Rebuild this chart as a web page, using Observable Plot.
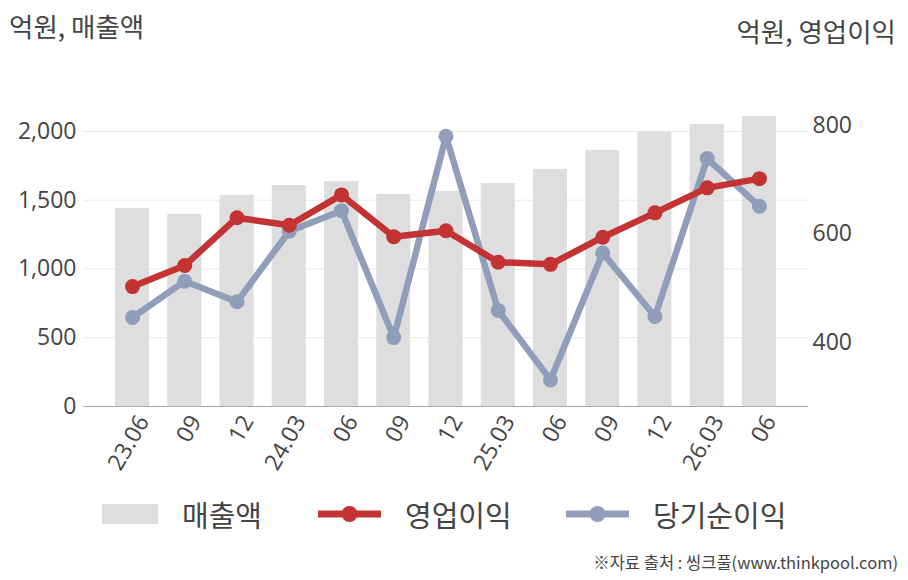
<!DOCTYPE html>
<html>
<head>
<meta charset="utf-8">
<script src="https://cdn.jsdelivr.net/npm/d3@7"></script>
<script src="https://cdn.jsdelivr.net/npm/@observablehq/plot@0.6"></script>
<style>
  body { margin: 0; width: 908px; height: 580px; background: #fff; overflow: hidden;
         font-family: "Open Sans", "Noto Sans CJK KR", sans-serif; color: #444; }
  #header { position: relative; height: 60px; }
  #header .t { position: absolute; font-size: 26.5px; color: #444; font-family: "Noto Sans CJK KR", sans-serif; white-space: nowrap; line-height: 1.2; }
  #legend { position: relative; height: 48px; }
  .item { position: absolute; top: 0; height: 48px; display: flex; align-items: center; }
  .item span { font-size: 29px; color: #444; font-family: "Noto Sans CJK KR", sans-serif; margin-left: 24px; }
  #caption { position: absolute; right: 10px; top: 550px; font-size: 16.5px; color: #444; font-family: "Noto Sans CJK KR", sans-serif; white-space: nowrap; }
  svg { display: block; }
</style>
</head>
<body>
<div id="header">
  <div class="t" style="left:9px; top:10px;">억원, 매출액</div>
  <div class="t" style="right:12px; top:15px;">억원, 영업이익</div>
</div>
<div id="chart"></div>
<div id="legend"></div>
<div id="caption">※자료 출처 : 씽크풀(www.thinkpool.com)</div>
<script>
// ---- data ----
const periods = ["23.06","23.09","23.12","24.03","24.06","24.09","24.12","25.03","25.06","25.09","25.12","26.03","26.06"];
const tickLabels = ["23.06","09","12","24.03","06","09","12","25.03","06","09","12","26.03","06"];
const sales = [1440, 1396, 1535, 1607, 1636, 1542, 1564, 1622, 1724, 1862, 1998, 2051, 2109];      // 매출액 (left axis)
const operating = [503, 542, 630, 616, 672, 595, 606, 548, 544, 594, 639, 685, 702];               // 영업이익 (right axis)
const netIncome = [446, 513, 475, 605, 643, 409, 780, 459, 331, 565, 448, 739, 651];               // 당기순이익 (right axis)
const leftTicks = [0, 500, 1000, 1500, 2000];
const rightTicks = [400, 600, 800];

const C_BAR = "#dedede", C_OP = "#c43333", C_NET = "#919eba";

// right axis (profit) mapped onto the left (sales) scale
const rMin = 282, rPerL = 0.25346;
const toL = r => (r - rMin) / rPerL;
const fromL = l => rMin + l * rPerL;

const data = periods.map((p, i) => ({period: p, label: tickLabels[i], sales: sales[i], op: operating[i], net: netIncome[i]}));
const labelOf = new Map(data.map(d => [d.period, d.label]));

const chart = Plot.plot({
  width: 908,
  height: 430,
  marginLeft: 83,
  marginRight: 100,
  marginTop: 36,
  marginBottom: 84,
  style: {fontFamily: "'Open Sans', 'Noto Sans CJK KR', sans-serif", color: "#444", background: "#fff"},
  x: {type: "band", domain: periods, paddingInner: 0.348, paddingOuter: 0.613, round: false, axis: null},
  y: {domain: [0, 2254.5], axis: null},
  marks: [
    Plot.gridY(leftTicks, {stroke: "#e9e9e9", strokeOpacity: 1, strokeWidth: 1}),
    Plot.barY(data, {x: "period", y: "sales", fill: C_BAR}),
    Plot.ruleY([0], {stroke: "#aaaaaa", strokeWidth: 1.2}),
    Plot.line(data, {x: "period", y: d => toL(d.net), stroke: C_NET, strokeWidth: 6.5, curve: "linear"}),
    Plot.dot(data, {x: "period", y: d => toL(d.net), fill: C_NET, r: 7.5, stroke: "none"}),
    Plot.line(data, {x: "period", y: d => toL(d.op), stroke: C_OP, strokeWidth: 6.5, curve: "linear"}),
    Plot.dot(data, {x: "period", y: d => toL(d.op), fill: C_OP, r: 7.5, stroke: "none"}),
    Plot.axisY(leftTicks, {anchor: "left", label: null, tickSize: 0, tickPadding: 7, fontSize: 23, fill: "#444", tickFormat: d3.format(",")}),
    Plot.axisY(rightTicks.map(toL), {anchor: "right", label: null, tickSize: 0, tickPadding: 4, fontSize: 23, fill: "#444", tickFormat: d => String(Math.round(fromL(d)))}),
    Plot.axisX(periods, {anchor: "bottom", label: null, tickSize: 0, tickPadding: 11, tickRotate: -60, dx: 11, fontSize: 23, fill: "#444", tickFormat: p => labelOf.get(p)})
  ]
});
document.getElementById("chart").appendChild(chart);

// ---- legend ----
const legendItems = [
  {name: "매출액", type: "bar", color: C_BAR, left: 102},
  {name: "영업이익", type: "line", color: C_OP, left: 318},
  {name: "당기순이익", type: "line", color: C_NET, left: 566}
];
const legend = document.getElementById("legend");
for (const it of legendItems) {
  const div = document.createElement("div");
  div.className = "item";
  div.style.left = it.left + "px";
  const sw = it.type === "bar"
    ? `<svg width="56" height="20"><rect width="56" height="20" fill="${it.color}"/></svg>`
    : `<svg width="63" height="20"><line x1="0" x2="63" y1="10" y2="10" stroke="${it.color}" stroke-width="7"/><circle cx="31.5" cy="10" r="8" fill="${it.color}"/></svg>`;
  div.innerHTML = sw + `<span>${it.name}</span>`;
  legend.appendChild(div);
}
</script>
</body>
</html>
